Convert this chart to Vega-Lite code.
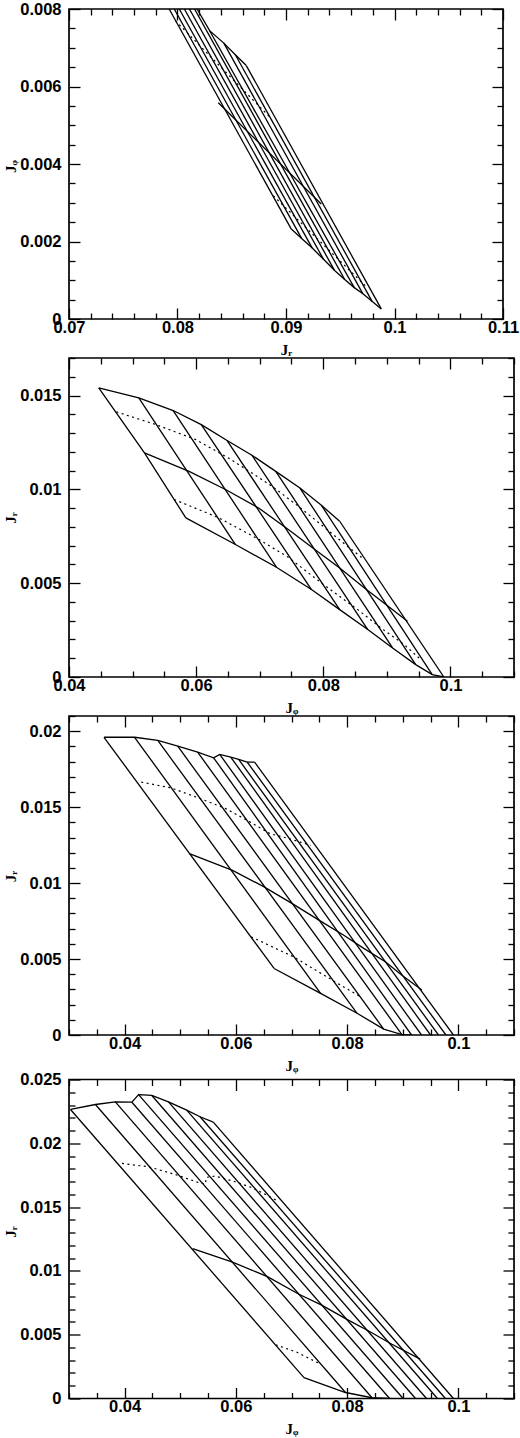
{
  "$schema": "https://vega.github.io/schema/vega-lite/v6.json",
  "padding": {"left": 2, "top": 0, "right": 0, "bottom": 0},
  "spacing": -3.5,
  "vconcat": [
    {
      "bounds": "flush",
      "spacing": 39,
      "vconcat": [
        {
          "width": 434,
          "height": 310,
          "layer": [
            {
              "data": {"name": "p1s"},
              "mark": {"type": "line", "color": "black", "strokeWidth": 1.3, "clip": true},
              "encoding": {
                "x": {"field": "x", "type": "quantitative", "scale": {"domain": [0.07, 0.11], "nice": false, "zero": false},
                  "axis": {"orient": "bottom", "values": [0.07, 0.08, 0.09, 0.1, 0.11], "format": "~g", "ticks": false, "labelFlush": false, "labelPadding": 0, "title": "Jᵣ", "titleY": 23, "titleBaseline": "top"}},
                "y": {"field": "y", "type": "quantitative", "scale": {"domain": [0, 0.008], "nice": false, "zero": false},
                  "axis": {"orient": "left", "values": [0, 0.002, 0.004, 0.006, 0.008], "format": "~g", "ticks": false, "labelPadding": 8, "title": "Jᵩ", "titleX": -59, "titleY": 157, "titleAngle": -90, "titleAlign": "center", "titleBaseline": "middle"}},
                "detail": {"field": "l"},
                "order": {"field": "i"}
              }
            },
            {
              "data": {"name": "p1d"},
              "mark": {"type": "line", "color": "black", "strokeWidth": 1.2, "strokeDash": [2, 3.5], "clip": true},
              "encoding": {
                "x": {"field": "x", "type": "quantitative", "scale": {"domain": [0.07, 0.11], "nice": false, "zero": false}, "axis": null},
                "y": {"field": "y", "type": "quantitative", "scale": {"domain": [0, 0.008], "nice": false, "zero": false}, "axis": null},
                "detail": {"field": "l"},
                "order": {"field": "i"}
              }
            },
            {
              "data": {"name": "p1s"},
              "mark": {"type": "point", "opacity": 0},
              "encoding": {
                "x": {"field": "x", "type": "quantitative", "scale": {"domain": [0.07, 0.11], "nice": false, "zero": false},
                  "axis": {"orient": "bottom", "labels": false, "title": null, "values": [0.07, 0.072, 0.074, 0.076, 0.078, 0.08, 0.082, 0.084, 0.086, 0.088, 0.09, 0.092, 0.094, 0.096, 0.098, 0.1, 0.102, 0.104, 0.106, 0.108, 0.11],
                    "tickSize": {"condition": {"test": "abs(datum.value*100 - round(datum.value*100)) < 0.01", "value": -11}, "value": -6}}},
                "y": {"field": "y", "type": "quantitative", "scale": {"domain": [0, 0.008], "nice": false, "zero": false},
                  "axis": {"orient": "left", "labels": false, "title": null, "values": [0, 0.0005, 0.001, 0.0015, 0.002, 0.0025, 0.003, 0.0035, 0.004, 0.0045, 0.005, 0.0055, 0.006, 0.0065, 0.007, 0.0075, 0.008],
                    "tickSize": {"condition": {"test": "abs(datum.value*500 - round(datum.value*500)) < 0.01", "value": -11}, "value": -6}}}
              }
            },
            {
              "data": {"name": "p1s"},
              "mark": {"type": "point", "opacity": 0},
              "encoding": {
                "x": {"field": "x", "type": "quantitative", "scale": {"domain": [0.07, 0.11], "nice": false, "zero": false},
                  "axis": {"orient": "top", "labels": false, "title": null, "values": [0.07, 0.072, 0.074, 0.076, 0.078, 0.08, 0.082, 0.084, 0.086, 0.088, 0.09, 0.092, 0.094, 0.096, 0.098, 0.1, 0.102, 0.104, 0.106, 0.108, 0.11],
                    "tickSize": {"condition": {"test": "abs(datum.value*100 - round(datum.value*100)) < 0.01", "value": -11}, "value": -6}}},
                "y": {"field": "y", "type": "quantitative", "scale": {"domain": [0, 0.008], "nice": false, "zero": false},
                  "axis": {"orient": "right", "labels": false, "title": null, "values": [0, 0.0005, 0.001, 0.0015, 0.002, 0.0025, 0.003, 0.0035, 0.004, 0.0045, 0.005, 0.0055, 0.006, 0.0065, 0.007, 0.0075, 0.008],
                    "tickSize": {"condition": {"test": "abs(datum.value*500 - round(datum.value*500)) < 0.01", "value": -11}, "value": -6}}}
              }
            }
          ],
          "resolve": {"axis": {"x": "independent", "y": "independent"}}
        },
        {
          "width": 445,
          "height": 319,
          "layer": [
            {
              "data": {"name": "p2s"},
              "mark": {"type": "line", "color": "black", "strokeWidth": 1.3, "clip": true},
              "encoding": {
                "x": {"field": "x", "type": "quantitative", "scale": {"domain": [0.04, 0.11], "nice": false, "zero": false},
                  "axis": {"orient": "bottom", "values": [0.04, 0.06, 0.08, 0.1], "format": "~g", "ticks": false, "labelFlush": false, "labelPadding": 0, "title": "Jᵩ", "titleY": 23, "titleBaseline": "top"}},
                "y": {"field": "y", "type": "quantitative", "scale": {"domain": [0, 0.017], "nice": false, "zero": false},
                  "axis": {"orient": "left", "values": [0, 0.005, 0.01, 0.015], "format": "~g", "ticks": false, "labelPadding": 8, "title": "Jᵣ", "titleX": -59, "titleY": 159.5, "titleAngle": -90, "titleAlign": "center", "titleBaseline": "middle"}},
                "detail": {"field": "l"},
                "order": {"field": "i"}
              }
            },
            {
              "data": {"name": "p2d"},
              "mark": {"type": "line", "color": "black", "strokeWidth": 1.2, "strokeDash": [2, 3.5], "clip": true},
              "encoding": {
                "x": {"field": "x", "type": "quantitative", "scale": {"domain": [0.04, 0.11], "nice": false, "zero": false}, "axis": null},
                "y": {"field": "y", "type": "quantitative", "scale": {"domain": [0, 0.017], "nice": false, "zero": false}, "axis": null},
                "detail": {"field": "l"},
                "order": {"field": "i"}
              }
            },
            {
              "data": {"name": "p2s"},
              "mark": {"type": "point", "opacity": 0},
              "encoding": {
                "x": {"field": "x", "type": "quantitative", "scale": {"domain": [0.04, 0.11], "nice": false, "zero": false},
                  "axis": {"orient": "bottom", "labels": false, "title": null, "values": [0.04, 0.045, 0.05, 0.055, 0.06, 0.065, 0.07, 0.075, 0.08, 0.085, 0.09, 0.095, 0.1, 0.105, 0.11],
                    "tickSize": {"condition": {"test": "abs(datum.value*50 - round(datum.value*50)) < 0.01", "value": -11}, "value": -6}}},
                "y": {"field": "y", "type": "quantitative", "scale": {"domain": [0, 0.017], "nice": false, "zero": false},
                  "axis": {"orient": "left", "labels": false, "title": null, "values": [0, 0.001, 0.002, 0.003, 0.004, 0.005, 0.006, 0.007, 0.008, 0.009, 0.01, 0.011, 0.012, 0.013, 0.014, 0.015, 0.016, 0.017],
                    "tickSize": {"condition": {"test": "abs(datum.value*200 - round(datum.value*200)) < 0.01", "value": -11}, "value": -6}}}
              }
            },
            {
              "data": {"name": "p2s"},
              "mark": {"type": "point", "opacity": 0},
              "encoding": {
                "x": {"field": "x", "type": "quantitative", "scale": {"domain": [0.04, 0.11], "nice": false, "zero": false},
                  "axis": {"orient": "top", "labels": false, "title": null, "values": [0.04, 0.045, 0.05, 0.055, 0.06, 0.065, 0.07, 0.075, 0.08, 0.085, 0.09, 0.095, 0.1, 0.105, 0.11],
                    "tickSize": {"condition": {"test": "abs(datum.value*50 - round(datum.value*50)) < 0.01", "value": -11}, "value": -6}}},
                "y": {"field": "y", "type": "quantitative", "scale": {"domain": [0, 0.017], "nice": false, "zero": false},
                  "axis": {"orient": "right", "labels": false, "title": null, "values": [0, 0.001, 0.002, 0.003, 0.004, 0.005, 0.006, 0.007, 0.008, 0.009, 0.01, 0.011, 0.012, 0.013, 0.014, 0.015, 0.016, 0.017],
                    "tickSize": {"condition": {"test": "abs(datum.value*200 - round(datum.value*200)) < 0.01", "value": -11}, "value": -6}}}
              }
            }
          ],
          "resolve": {"axis": {"x": "independent", "y": "independent"}}
        },
        {
          "width": 445,
          "height": 319,
          "layer": [
            {
              "data": {"name": "p3s"},
              "mark": {"type": "line", "color": "black", "strokeWidth": 1.3, "clip": true},
              "encoding": {
                "x": {"field": "x", "type": "quantitative", "scale": {"domain": [0.03, 0.11], "nice": false, "zero": false},
                  "axis": {"orient": "bottom", "values": [0.04, 0.06, 0.08, 0.1], "format": "~g", "ticks": false, "labelFlush": false, "labelPadding": 0, "title": "Jᵩ", "titleY": 23, "titleBaseline": "top"}},
                "y": {"field": "y", "type": "quantitative", "scale": {"domain": [0, 0.021], "nice": false, "zero": false},
                  "axis": {"orient": "left", "values": [0, 0.005, 0.01, 0.015, 0.02], "format": "~g", "ticks": false, "labelPadding": 8, "title": "Jᵣ", "titleX": -59, "titleY": 160, "titleAngle": -90, "titleAlign": "center", "titleBaseline": "middle"}},
                "detail": {"field": "l"},
                "order": {"field": "i"}
              }
            },
            {
              "data": {"name": "p3d"},
              "mark": {"type": "line", "color": "black", "strokeWidth": 1.2, "strokeDash": [2, 3.5], "clip": true},
              "encoding": {
                "x": {"field": "x", "type": "quantitative", "scale": {"domain": [0.03, 0.11], "nice": false, "zero": false}, "axis": null},
                "y": {"field": "y", "type": "quantitative", "scale": {"domain": [0, 0.021], "nice": false, "zero": false}, "axis": null},
                "detail": {"field": "l"},
                "order": {"field": "i"}
              }
            },
            {
              "data": {"name": "p3s"},
              "mark": {"type": "point", "opacity": 0},
              "encoding": {
                "x": {"field": "x", "type": "quantitative", "scale": {"domain": [0.03, 0.11], "nice": false, "zero": false},
                  "axis": {"orient": "bottom", "labels": false, "title": null, "values": [0.03, 0.035, 0.04, 0.045, 0.05, 0.055, 0.06, 0.065, 0.07, 0.075, 0.08, 0.085, 0.09, 0.095, 0.1, 0.105, 0.11],
                    "tickSize": {"condition": {"test": "abs(datum.value*50 - round(datum.value*50)) < 0.01", "value": -11}, "value": -6}}},
                "y": {"field": "y", "type": "quantitative", "scale": {"domain": [0, 0.021], "nice": false, "zero": false},
                  "axis": {"orient": "left", "labels": false, "title": null, "values": [0, 0.001, 0.002, 0.003, 0.004, 0.005, 0.006, 0.007, 0.008, 0.009, 0.01, 0.011, 0.012, 0.013, 0.014, 0.015, 0.016, 0.017, 0.018, 0.019, 0.02, 0.021],
                    "tickSize": {"condition": {"test": "abs(datum.value*200 - round(datum.value*200)) < 0.01", "value": -11}, "value": -6}}}
              }
            },
            {
              "data": {"name": "p3s"},
              "mark": {"type": "point", "opacity": 0},
              "encoding": {
                "x": {"field": "x", "type": "quantitative", "scale": {"domain": [0.03, 0.11], "nice": false, "zero": false},
                  "axis": {"orient": "top", "labels": false, "title": null, "values": [0.03, 0.035, 0.04, 0.045, 0.05, 0.055, 0.06, 0.065, 0.07, 0.075, 0.08, 0.085, 0.09, 0.095, 0.1, 0.105, 0.11],
                    "tickSize": {"condition": {"test": "abs(datum.value*50 - round(datum.value*50)) < 0.01", "value": -11}, "value": -6}}},
                "y": {"field": "y", "type": "quantitative", "scale": {"domain": [0, 0.021], "nice": false, "zero": false},
                  "axis": {"orient": "right", "labels": false, "title": null, "values": [0, 0.001, 0.002, 0.003, 0.004, 0.005, 0.006, 0.007, 0.008, 0.009, 0.01, 0.011, 0.012, 0.013, 0.014, 0.015, 0.016, 0.017, 0.018, 0.019, 0.02, 0.021],
                    "tickSize": {"condition": {"test": "abs(datum.value*200 - round(datum.value*200)) < 0.01", "value": -11}, "value": -6}}}
              }
            }
          ],
          "resolve": {"axis": {"x": "independent", "y": "independent"}}
        }
      ]
    },
    {
      "width": 445,
      "height": 319,
      "layer": [
        {
          "data": {"name": "p4s"},
          "mark": {"type": "line", "color": "black", "strokeWidth": 1.3, "clip": true},
          "encoding": {
            "x": {"field": "x", "type": "quantitative", "scale": {"domain": [0.03, 0.11], "nice": false, "zero": false},
              "axis": {"orient": "bottom", "values": [0.04, 0.06, 0.08, 0.1], "format": "~g", "ticks": false, "labelFlush": false, "labelPadding": 0, "title": "Jᵩ", "titleY": 23, "titleBaseline": "top"}},
            "y": {"field": "y", "type": "quantitative", "scale": {"domain": [0, 0.025], "nice": false, "zero": false},
              "axis": {"orient": "left", "values": [0, 0.005, 0.01, 0.015, 0.02, 0.025], "format": "~g", "ticks": false, "labelPadding": 8, "title": "Jᵣ", "titleX": -59, "titleY": 152, "titleAngle": -90, "titleAlign": "center", "titleBaseline": "middle"}},
            "detail": {"field": "l"},
            "order": {"field": "i"}
          }
        },
        {
          "data": {"name": "p4d"},
          "mark": {"type": "line", "color": "black", "strokeWidth": 1.2, "strokeDash": [2, 3.5], "clip": true},
          "encoding": {
            "x": {"field": "x", "type": "quantitative", "scale": {"domain": [0.03, 0.11], "nice": false, "zero": false}, "axis": null},
            "y": {"field": "y", "type": "quantitative", "scale": {"domain": [0, 0.025], "nice": false, "zero": false}, "axis": null},
            "detail": {"field": "l"},
            "order": {"field": "i"}
          }
        },
        {
          "data": {"name": "p4s"},
          "mark": {"type": "point", "opacity": 0},
          "encoding": {
            "x": {"field": "x", "type": "quantitative", "scale": {"domain": [0.03, 0.11], "nice": false, "zero": false},
              "axis": {"orient": "bottom", "labels": false, "title": null, "values": [0.03, 0.035, 0.04, 0.045, 0.05, 0.055, 0.06, 0.065, 0.07, 0.075, 0.08, 0.085, 0.09, 0.095, 0.1, 0.105, 0.11],
                "tickSize": {"condition": {"test": "abs(datum.value*50 - round(datum.value*50)) < 0.01", "value": -11}, "value": -6}}},
            "y": {"field": "y", "type": "quantitative", "scale": {"domain": [0, 0.025], "nice": false, "zero": false},
              "axis": {"orient": "left", "labels": false, "title": null, "values": [0, 0.001, 0.002, 0.003, 0.004, 0.005, 0.006, 0.007, 0.008, 0.009, 0.01, 0.011, 0.012, 0.013, 0.014, 0.015, 0.016, 0.017, 0.018, 0.019, 0.02, 0.021, 0.022, 0.023, 0.024, 0.025],
                "tickSize": {"condition": {"test": "abs(datum.value*200 - round(datum.value*200)) < 0.01", "value": -11}, "value": -6}}}
          }
        },
        {
          "data": {"name": "p4s"},
          "mark": {"type": "point", "opacity": 0},
          "encoding": {
            "x": {"field": "x", "type": "quantitative", "scale": {"domain": [0.03, 0.11], "nice": false, "zero": false},
              "axis": {"orient": "top", "labels": false, "title": null, "values": [0.03, 0.035, 0.04, 0.045, 0.05, 0.055, 0.06, 0.065, 0.07, 0.075, 0.08, 0.085, 0.09, 0.095, 0.1, 0.105, 0.11],
                "tickSize": {"condition": {"test": "abs(datum.value*50 - round(datum.value*50)) < 0.01", "value": -11}, "value": -6}}},
            "y": {"field": "y", "type": "quantitative", "scale": {"domain": [0, 0.025], "nice": false, "zero": false},
              "axis": {"orient": "right", "labels": false, "title": null, "values": [0, 0.001, 0.002, 0.003, 0.004, 0.005, 0.006, 0.007, 0.008, 0.009, 0.01, 0.011, 0.012, 0.013, 0.014, 0.015, 0.016, 0.017, 0.018, 0.019, 0.02, 0.021, 0.022, 0.023, 0.024, 0.025],
                "tickSize": {"condition": {"test": "abs(datum.value*200 - round(datum.value*200)) < 0.01", "value": -11}, "value": -6}}}
          }
        }
      ],
      "resolve": {"axis": {"x": "independent", "y": "independent"}}
    }
  ],
  "datasets": {
    "p1s": [
      {"l": "k0", "i": 0, "x": 0.07923, "y": 0.008}, {"l": "k0", "i": 1, "x": 0.09049, "y": 0.00232},
      {"l": "k1", "i": 0, "x": 0.0797, "y": 0.008}, {"l": "k1", "i": 1, "x": 0.09144, "y": 0.00208},
      {"l": "k2", "i": 0, "x": 0.08016, "y": 0.008}, {"l": "k2", "i": 1, "x": 0.09242, "y": 0.00183},
      {"l": "k3", "i": 0, "x": 0.08063, "y": 0.008}, {"l": "k3", "i": 1, "x": 0.09346, "y": 0.00154},
      {"l": "k4", "i": 0, "x": 0.0811, "y": 0.008}, {"l": "k4", "i": 1, "x": 0.09448, "y": 0.00125},
      {"l": "k5", "i": 0, "x": 0.08157, "y": 0.008}, {"l": "k5", "i": 1, "x": 0.09541, "y": 0.00102},
      {"l": "k6", "i": 0, "x": 0.08296, "y": 0.00744}, {"l": "k6", "i": 1, "x": 0.09629, "y": 0.00081},
      {"l": "k7", "i": 0, "x": 0.08427, "y": 0.00712}, {"l": "k7", "i": 1, "x": 0.09709, "y": 0.00065},
      {"l": "k8", "i": 0, "x": 0.08533, "y": 0.00682}, {"l": "k8", "i": 1, "x": 0.09795, "y": 0.00045},
      {"l": "k9", "i": 0, "x": 0.08634, "y": 0.00654}, {"l": "k9", "i": 1, "x": 0.09878, "y": 0.00026},
      {"l": "top", "i": 0, "x": 0.0818, "y": 0.008}, {"l": "top", "i": 1, "x": 0.08296, "y": 0.00744},
      {"l": "top", "i": 2, "x": 0.08427, "y": 0.00712}, {"l": "top", "i": 3, "x": 0.08533, "y": 0.00682},
      {"l": "top", "i": 4, "x": 0.08634, "y": 0.00654},
      {"l": "bot", "i": 0, "x": 0.09049, "y": 0.00232}, {"l": "bot", "i": 1, "x": 0.09144, "y": 0.00208},
      {"l": "bot", "i": 2, "x": 0.09242, "y": 0.00183}, {"l": "bot", "i": 3, "x": 0.09346, "y": 0.00154},
      {"l": "bot", "i": 4, "x": 0.09448, "y": 0.00125}, {"l": "bot", "i": 5, "x": 0.09541, "y": 0.00102},
      {"l": "bot", "i": 6, "x": 0.09629, "y": 0.00081}, {"l": "bot", "i": 7, "x": 0.09709, "y": 0.00065},
      {"l": "bot", "i": 8, "x": 0.09795, "y": 0.00045}, {"l": "bot", "i": 9, "x": 0.09878, "y": 0.00026},
      {"l": "mid", "i": 0, "x": 0.08376, "y": 0.00558}, {"l": "mid", "i": 1, "x": 0.09325, "y": 0.00297}
    ],
    "p1d": [
      {"l": "d1", "i": 0, "x": 0.0798, "y": 0.0077}, {"l": "d1", "i": 1, "x": 0.08865, "y": 0.00517},
      {"l": "d2", "i": 0, "x": 0.08883, "y": 0.00318}, {"l": "d2", "i": 1, "x": 0.09731, "y": 0.00086}
    ],
    "p2s": [
      {"l": "top", "i": 0, "x": 0.04468, "y": 0.01541}, {"l": "top", "i": 1, "x": 0.05098, "y": 0.01487},
      {"l": "top", "i": 2, "x": 0.05639, "y": 0.0142}, {"l": "top", "i": 3, "x": 0.06081, "y": 0.01345},
      {"l": "top", "i": 4, "x": 0.06487, "y": 0.0126}, {"l": "top", "i": 5, "x": 0.06877, "y": 0.01182},
      {"l": "top", "i": 6, "x": 0.07252, "y": 0.01096}, {"l": "top", "i": 7, "x": 0.07633, "y": 0.01007},
      {"l": "top", "i": 8, "x": 0.0797, "y": 0.00915}, {"l": "top", "i": 9, "x": 0.08258, "y": 0.0083},
      {"l": "bot", "i": 0, "x": 0.05838, "y": 0.00848}, {"l": "bot", "i": 1, "x": 0.06618, "y": 0.00706},
      {"l": "bot", "i": 2, "x": 0.07263, "y": 0.00585}, {"l": "bot", "i": 3, "x": 0.07814, "y": 0.00466},
      {"l": "bot", "i": 4, "x": 0.08258, "y": 0.00359}, {"l": "bot", "i": 5, "x": 0.087, "y": 0.00253},
      {"l": "bot", "i": 6, "x": 0.0909, "y": 0.00155}, {"l": "bot", "i": 7, "x": 0.09454, "y": 0.00066},
      {"l": "bot", "i": 8, "x": 0.09714, "y": 0.00013}, {"l": "bot", "i": 9, "x": 0.09897, "y": 0},
      {"l": "s0", "i": 0, "x": 0.04468, "y": 0.01541}, {"l": "s0", "i": 1, "x": 0.05187, "y": 0.01194}, {"l": "s0", "i": 2, "x": 0.05838, "y": 0.00848},
      {"l": "s1", "i": 0, "x": 0.05098, "y": 0.01487}, {"l": "s1", "i": 1, "x": 0.06618, "y": 0.00706},
      {"l": "s2", "i": 0, "x": 0.05639, "y": 0.0142}, {"l": "s2", "i": 1, "x": 0.07263, "y": 0.00585},
      {"l": "s3", "i": 0, "x": 0.06081, "y": 0.01345}, {"l": "s3", "i": 1, "x": 0.07814, "y": 0.00466},
      {"l": "s4", "i": 0, "x": 0.06487, "y": 0.0126}, {"l": "s4", "i": 1, "x": 0.08258, "y": 0.00359},
      {"l": "s5", "i": 0, "x": 0.06877, "y": 0.01182}, {"l": "s5", "i": 1, "x": 0.087, "y": 0.00253},
      {"l": "s6", "i": 0, "x": 0.07252, "y": 0.01096}, {"l": "s6", "i": 1, "x": 0.0909, "y": 0.00155},
      {"l": "s7", "i": 0, "x": 0.07633, "y": 0.01007}, {"l": "s7", "i": 1, "x": 0.09454, "y": 0.00066},
      {"l": "s8", "i": 0, "x": 0.0797, "y": 0.00915}, {"l": "s8", "i": 1, "x": 0.09714, "y": 0.00013},
      {"l": "s9", "i": 0, "x": 0.08258, "y": 0.0083}, {"l": "s9", "i": 1, "x": 0.09897, "y": 0},
      {"l": "mid", "i": 0, "x": 0.05187, "y": 0.01194}, {"l": "mid", "i": 1, "x": 0.05889, "y": 0.01096},
      {"l": "mid", "i": 2, "x": 0.06462, "y": 0.00999}, {"l": "mid", "i": 3, "x": 0.06982, "y": 0.00901},
      {"l": "mid", "i": 4, "x": 0.0745, "y": 0.00786}, {"l": "mid", "i": 5, "x": 0.07867, "y": 0.00679},
      {"l": "mid", "i": 6, "x": 0.08258, "y": 0.00581}, {"l": "mid", "i": 7, "x": 0.08648, "y": 0.00474},
      {"l": "mid", "i": 8, "x": 0.08985, "y": 0.00386}, {"l": "mid", "i": 9, "x": 0.09324, "y": 0.00297}
    ],
    "p2d": [
      {"l": "d1", "i": 0, "x": 0.04745, "y": 0.01413}, {"l": "d1", "i": 1, "x": 0.05369, "y": 0.01345},
      {"l": "d1", "i": 2, "x": 0.05994, "y": 0.01265}, {"l": "d1", "i": 3, "x": 0.06514, "y": 0.01166},
      {"l": "d1", "i": 4, "x": 0.06877, "y": 0.01087}, {"l": "d1", "i": 5, "x": 0.07216, "y": 0.01011},
      {"l": "d1", "i": 6, "x": 0.07607, "y": 0.0091}, {"l": "d1", "i": 7, "x": 0.07919, "y": 0.00825},
      {"l": "d1", "i": 8, "x": 0.08283, "y": 0.00723}, {"l": "d1", "i": 9, "x": 0.0863, "y": 0.0063},
      {"l": "d2", "i": 0, "x": 0.05655, "y": 0.00946}, {"l": "d2", "i": 1, "x": 0.06358, "y": 0.00848},
      {"l": "d2", "i": 2, "x": 0.06982, "y": 0.00734}, {"l": "d2", "i": 3, "x": 0.0745, "y": 0.00638},
      {"l": "d2", "i": 4, "x": 0.0797, "y": 0.00501}, {"l": "d2", "i": 5, "x": 0.08543, "y": 0.00359},
      {"l": "d2", "i": 6, "x": 0.08907, "y": 0.00261}, {"l": "d2", "i": 7, "x": 0.09272, "y": 0.00173},
      {"l": "d2", "i": 8, "x": 0.09507, "y": 0.00101}
    ],
    "p3s": [
      {"l": "top", "i": 0, "x": 0.03629, "y": 0.0196}, {"l": "top", "i": 1, "x": 0.04179, "y": 0.0196},
      {"l": "top", "i": 2, "x": 0.04596, "y": 0.01939}, {"l": "top", "i": 3, "x": 0.04955, "y": 0.01901},
      {"l": "top", "i": 4, "x": 0.05313, "y": 0.01862}, {"l": "top", "i": 5, "x": 0.056, "y": 0.01825},
      {"l": "top", "i": 6, "x": 0.0571, "y": 0.01847}, {"l": "top", "i": 7, "x": 0.05907, "y": 0.0183},
      {"l": "top", "i": 8, "x": 0.06051, "y": 0.01814}, {"l": "top", "i": 9, "x": 0.06203, "y": 0.01797},
      {"l": "top", "i": 10, "x": 0.06337, "y": 0.01796},
      {"l": "bot", "i": 0, "x": 0.06687, "y": 0.00438}, {"l": "bot", "i": 1, "x": 0.07523, "y": 0.00274},
      {"l": "bot", "i": 2, "x": 0.08179, "y": 0.00143}, {"l": "bot", "i": 3, "x": 0.08657, "y": 0.00039},
      {"l": "bot", "i": 4, "x": 0.08985, "y": 0.00003}, {"l": "bot", "i": 5, "x": 0.09158, "y": 0},
      {"l": "s0", "i": 0, "x": 0.03629, "y": 0.0196}, {"l": "s0", "i": 1, "x": 0.06687, "y": 0.00438},
      {"l": "s1", "i": 0, "x": 0.04179, "y": 0.0196}, {"l": "s1", "i": 1, "x": 0.07523, "y": 0.00274},
      {"l": "s2", "i": 0, "x": 0.04596, "y": 0.01939}, {"l": "s2", "i": 1, "x": 0.08179, "y": 0.00143},
      {"l": "s3", "i": 0, "x": 0.04955, "y": 0.01901}, {"l": "s3", "i": 1, "x": 0.08657, "y": 0.00039},
      {"l": "s4", "i": 0, "x": 0.05313, "y": 0.01862}, {"l": "s4", "i": 1, "x": 0.08985, "y": 0.00003},
      {"l": "s5", "i": 0, "x": 0.056, "y": 0.01825}, {"l": "s5", "i": 1, "x": 0.09158, "y": 0},
      {"l": "s6", "i": 0, "x": 0.0571, "y": 0.01847}, {"l": "s6", "i": 1, "x": 0.09337, "y": 0},
      {"l": "s7", "i": 0, "x": 0.05907, "y": 0.0183}, {"l": "s7", "i": 1, "x": 0.09499, "y": 0},
      {"l": "s8", "i": 0, "x": 0.06051, "y": 0.01814}, {"l": "s8", "i": 1, "x": 0.09642, "y": 0},
      {"l": "s9", "i": 0, "x": 0.06203, "y": 0.01797}, {"l": "s9", "i": 1, "x": 0.09776, "y": 0},
      {"l": "s10", "i": 0, "x": 0.06337, "y": 0.01796}, {"l": "s10", "i": 1, "x": 0.09911, "y": 0},
      {"l": "mid", "i": 0, "x": 0.05164, "y": 0.01194}, {"l": "mid", "i": 1, "x": 0.0594, "y": 0.01084},
      {"l": "mid", "i": 2, "x": 0.06507, "y": 0.00975}, {"l": "mid", "i": 3, "x": 0.07014, "y": 0.00865},
      {"l": "mid", "i": 4, "x": 0.07493, "y": 0.00756}, {"l": "mid", "i": 5, "x": 0.0794, "y": 0.00657},
      {"l": "mid", "i": 6, "x": 0.08299, "y": 0.0057}, {"l": "mid", "i": 7, "x": 0.08687, "y": 0.00482},
      {"l": "mid", "i": 8, "x": 0.08985, "y": 0.00394}, {"l": "mid", "i": 9, "x": 0.09343, "y": 0.00296}
    ],
    "p3d": [
      {"l": "d1", "i": 0, "x": 0.04299, "y": 0.01665}, {"l": "d1", "i": 1, "x": 0.04842, "y": 0.01626},
      {"l": "d1", "i": 2, "x": 0.05325, "y": 0.01561}, {"l": "d1", "i": 3, "x": 0.05809, "y": 0.01492},
      {"l": "d1", "i": 4, "x": 0.06239, "y": 0.01406}, {"l": "d1", "i": 5, "x": 0.06615, "y": 0.01325},
      {"l": "d1", "i": 6, "x": 0.06955, "y": 0.01293}, {"l": "d1", "i": 7, "x": 0.07344, "y": 0.01249},
      {"l": "d2", "i": 0, "x": 0.06275, "y": 0.00646}, {"l": "d2", "i": 1, "x": 0.07045, "y": 0.00513},
      {"l": "d2", "i": 2, "x": 0.07493, "y": 0.00414}, {"l": "d2", "i": 3, "x": 0.07851, "y": 0.00335},
      {"l": "d2", "i": 4, "x": 0.08239, "y": 0.00252}
    ],
    "p4s": [
      {"l": "top", "i": 0, "x": 0.03027, "y": 0.02265}, {"l": "top", "i": 1, "x": 0.03475, "y": 0.02304},
      {"l": "top", "i": 2, "x": 0.03833, "y": 0.02325}, {"l": "top", "i": 3, "x": 0.04131, "y": 0.02322},
      {"l": "top", "i": 4, "x": 0.04251, "y": 0.02382}, {"l": "top", "i": 5, "x": 0.04489, "y": 0.02375},
      {"l": "top", "i": 6, "x": 0.04788, "y": 0.02325}, {"l": "top", "i": 7, "x": 0.05116, "y": 0.0226},
      {"l": "top", "i": 8, "x": 0.05356, "y": 0.02208}, {"l": "top", "i": 9, "x": 0.05594, "y": 0.02166},
      {"l": "bot", "i": 0, "x": 0.07224, "y": 0.00164}, {"l": "bot", "i": 1, "x": 0.07971, "y": 0.00047},
      {"l": "bot", "i": 2, "x": 0.08447, "y": 0.00006}, {"l": "bot", "i": 3, "x": 0.08764, "y": 0},
      {"l": "s0", "i": 0, "x": 0.03027, "y": 0.02265}, {"l": "s0", "i": 1, "x": 0.07224, "y": 0.00164},
      {"l": "s1", "i": 0, "x": 0.03475, "y": 0.02304}, {"l": "s1", "i": 1, "x": 0.07971, "y": 0.00047},
      {"l": "s2", "i": 0, "x": 0.03833, "y": 0.02325}, {"l": "s2", "i": 1, "x": 0.08447, "y": 0.00006},
      {"l": "s3", "i": 0, "x": 0.04131, "y": 0.02322}, {"l": "s3", "i": 1, "x": 0.08764, "y": 0},
      {"l": "s4", "i": 0, "x": 0.04251, "y": 0.02382}, {"l": "s4", "i": 1, "x": 0.09006, "y": 0},
      {"l": "s5", "i": 0, "x": 0.04489, "y": 0.02375}, {"l": "s5", "i": 1, "x": 0.0923, "y": 0},
      {"l": "s6", "i": 0, "x": 0.04788, "y": 0.02325}, {"l": "s6", "i": 1, "x": 0.09427, "y": 0},
      {"l": "s7", "i": 0, "x": 0.05116, "y": 0.0226}, {"l": "s7", "i": 1, "x": 0.09624, "y": 0},
      {"l": "s8", "i": 0, "x": 0.05356, "y": 0.02208}, {"l": "s8", "i": 1, "x": 0.09767, "y": 0},
      {"l": "s9", "i": 0, "x": 0.05594, "y": 0.02166}, {"l": "s9", "i": 1, "x": 0.09911, "y": 0},
      {"l": "mid", "i": 0, "x": 0.05223, "y": 0.01174}, {"l": "mid", "i": 1, "x": 0.0594, "y": 0.01069},
      {"l": "mid", "i": 2, "x": 0.06567, "y": 0.00955}, {"l": "mid", "i": 3, "x": 0.07134, "y": 0.00817},
      {"l": "mid", "i": 4, "x": 0.07552, "y": 0.0073}, {"l": "mid", "i": 5, "x": 0.07971, "y": 0.00626},
      {"l": "mid", "i": 6, "x": 0.08388, "y": 0.00529}, {"l": "mid", "i": 7, "x": 0.08805, "y": 0.00425},
      {"l": "mid", "i": 8, "x": 0.09314, "y": 0.00308}
    ],
    "p4d": [
      {"l": "d1", "i": 0, "x": 0.03952, "y": 0.01842}, {"l": "d1", "i": 1, "x": 0.0443, "y": 0.01816},
      {"l": "d1", "i": 2, "x": 0.04908, "y": 0.01756}, {"l": "d1", "i": 3, "x": 0.05343, "y": 0.0169},
      {"l": "d1", "i": 4, "x": 0.05451, "y": 0.01682}, {"l": "d1", "i": 5, "x": 0.05469, "y": 0.01733},
      {"l": "d1", "i": 6, "x": 0.0563, "y": 0.01743}, {"l": "d1", "i": 7, "x": 0.0597, "y": 0.01701},
      {"l": "d1", "i": 8, "x": 0.06293, "y": 0.01652}, {"l": "d1", "i": 9, "x": 0.06525, "y": 0.016},
      {"l": "d1", "i": 10, "x": 0.06758, "y": 0.01547},
      {"l": "d2", "i": 0, "x": 0.06717, "y": 0.00421}, {"l": "d2", "i": 1, "x": 0.07099, "y": 0.00362},
      {"l": "d2", "i": 2, "x": 0.07493, "y": 0.00276}
    ]
  },
  "config": {
    "view": {"stroke": "black", "strokeWidth": 1.7},
    "axis": {
      "grid": false,
      "domain": false,
      "tickColor": "black",
      "tickWidth": 1.3,
      "labelFont": "Liberation Sans",
      "labelFontSize": 16.5,
      "labelFontWeight": "bold",
      "labelColor": "black",
      "titleFont": "Liberation Serif",
      "titleFontSize": 15,
      "titleFontWeight": "bold",
      "titleColor": "black"
    }
  }
}
